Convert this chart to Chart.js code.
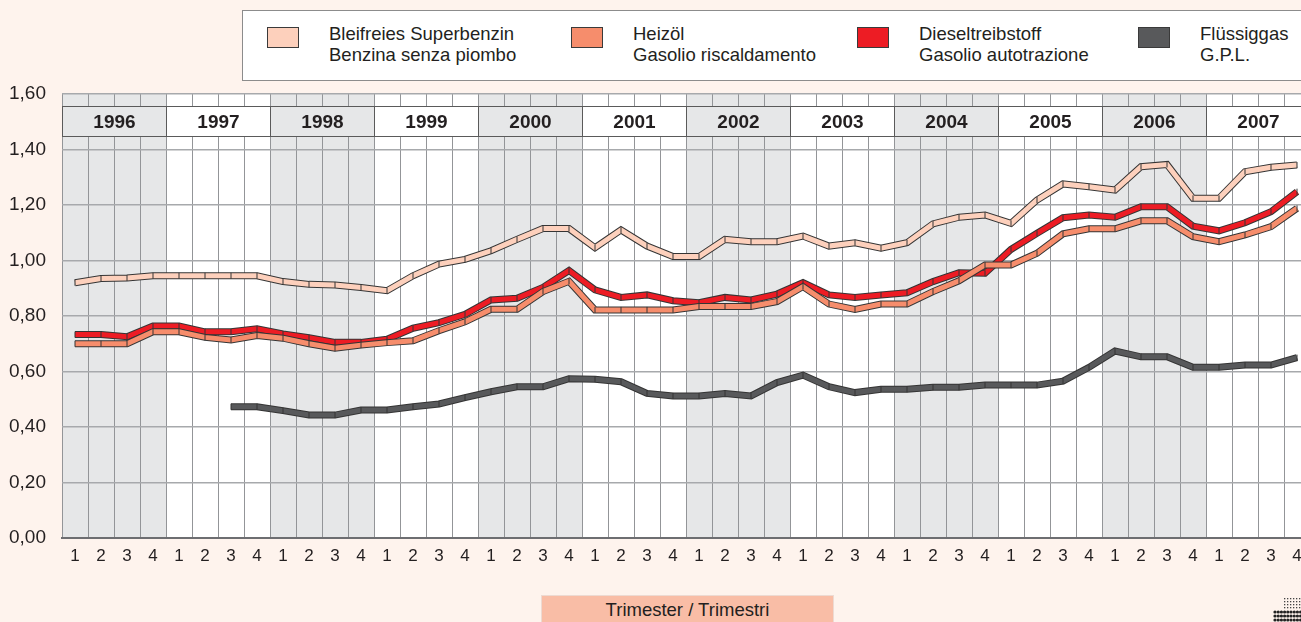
<!DOCTYPE html>
<html>
<head>
<meta charset="utf-8">
<script src="https://cdn.jsdelivr.net/npm/chart.js@4.4.1/dist/chart.umd.min.js"></script>
<style>
html, body { margin: 0; padding: 0; width: 1301px; height: 622px; overflow: hidden; background: #fef3ed; }
body { position: relative; font-family: "Liberation Sans", Arial, sans-serif; color: #231f20; }
#myChart { position: absolute; left: 0; top: 0; }
#legend { position: absolute; left: 242px; top: 10px; width: 1100px; height: 69px; background: #fff; border: 1px solid #8c8c8c; }
.swatch { position: absolute; top: 16px; width: 30px; height: 19px; border: 1px solid #3a3a3a; }
.label { position: absolute; top: 12px; font-size: 18.5px; line-height: 21px; white-space: nowrap; }
#xtitle { position: absolute; left: 541px; top: 595px; width: 291px; height: 40px; background: #f9bda6; border: 1px solid #eddad2; font-size: 18.5px; text-align: center; line-height: 28px; }
</style>
</head>
<body>
<canvas id="myChart" width="1320" height="622"></canvas>
<div id="legend"></div>
<div id="xtitle">Trimester / Trimestri</div>
<script>
const years = ['1996', '1997', '1998', '1999', '2000', '2001', '2002', '2003', '2004', '2005', '2006', '2007'];
const quarters = ['1', '2', '3', '4'];

const seriesNames = [
    ['Bleifreies Superbenzin', 'Benzina senza piombo'],
    ['Heizöl', 'Gasolio riscaldamento'],
    ['Dieseltreibstoff', 'Gasolio autotrazione'],
    ['Flüssiggas', 'G.P.L.']
];

const superbenzin = [
    0.92, 0.935, 0.937, 0.945,
    0.945, 0.945, 0.945, 0.945,
    0.924, 0.914, 0.912, 0.903,
    0.891, 0.945, 0.987, 1.004,
    1.035, 1.076, 1.115, 1.115,
    1.046, 1.11, 1.052, 1.014,
    1.014, 1.076, 1.068, 1.068,
    1.088, 1.052, 1.064, 1.044,
    1.064, 1.132, 1.156, 1.164,
    1.134, 1.218, 1.276, 1.266,
    1.254, 1.338, 1.346, 1.224,
    1.224, 1.32, 1.336, 1.344
];
const heizoel = [
    0.70, 0.70, 0.70, 0.743,
    0.743, 0.723, 0.714, 0.73,
    0.72, 0.70, 0.684, 0.695,
    0.704, 0.711, 0.747, 0.779,
    0.824, 0.824, 0.888, 0.925,
    0.822, 0.822, 0.822, 0.822,
    0.834, 0.834, 0.834, 0.852,
    0.906, 0.843, 0.824, 0.843,
    0.843, 0.888, 0.927, 0.984,
    0.984, 1.026, 1.096, 1.114,
    1.114, 1.143, 1.143, 1.086,
    1.068, 1.092, 1.122, 1.188
];
const diesel = [
    0.733, 0.733, 0.725, 0.764,
    0.764, 0.743, 0.743, 0.754,
    0.735, 0.722, 0.705, 0.705,
    0.716, 0.756, 0.776, 0.806,
    0.858, 0.864, 0.903, 0.964,
    0.894, 0.867, 0.876, 0.855,
    0.848, 0.867, 0.858, 0.879,
    0.92, 0.876, 0.867, 0.876,
    0.884, 0.924, 0.956, 0.954,
    1.04, 1.098, 1.154, 1.164,
    1.156, 1.194, 1.194, 1.124,
    1.107, 1.136, 1.176, 1.248
];
const gpl = [
    null, null, null, null,
    null, null, 0.473, 0.473,
    0.459, 0.443, 0.443, 0.461,
    0.461, 0.473, 0.483, 0.506,
    0.527, 0.545, 0.545, 0.574,
    0.572, 0.563, 0.521, 0.512,
    0.512, 0.521, 0.512, 0.56,
    0.587, 0.545, 0.524, 0.536,
    0.536, 0.543, 0.543, 0.551,
    0.551, 0.551, 0.565, 0.615,
    0.674, 0.653, 0.653, 0.615,
    0.615, 0.623, 0.623, 0.65
];

const colors = ['#fdd0bc', '#f68d6c', '#ed1c24', '#58595b'];
const outline = '#353535';
const labels = years.flatMap(y => quarters.map(q => y + '/' + q));

// legend (html)
const legendLeft = [24, 328, 614, 895];
const legend = document.getElementById('legend');
seriesNames.forEach((names, i) => {
    const sw = document.createElement('div');
    sw.className = 'swatch';
    sw.style.left = legendLeft[i] + 'px';
    sw.style.background = colors[i];
    legend.appendChild(sw);
    const lb = document.createElement('div');
    lb.className = 'label';
    lb.style.left = (legendLeft[i] + 62) + 'px';
    lb.innerHTML = names[0] + '<br>' + names[1];
    legend.appendChild(lb);
});

function band(label, data, color, order) {
    return [{
        label: label,
        data: data,
        borderColor: color,
        borderWidth: 5,
        borderJoinStyle: 'miter',
        borderCapStyle: 'butt',
        pointStyle: 'line',
        rotation: 90,
        pointRadius: 3,
        pointBorderColor: outline,
        pointBorderWidth: 1,
        pointHoverRadius: 3,
        tension: 0,
        order: order
    }, {
        label: label + ' outline',
        data: data,
        borderColor: outline,
        borderWidth: 7,
        borderJoinStyle: 'miter',
        borderCapStyle: 'butt',
        pointRadius: 0,
        tension: 0,
        order: order + 0.5
    }];
}

// year shading + header band
const yearPlugin = {
    id: 'years',
    beforeDraw(chart) {
        const { ctx, chartArea: a, scales: { x } } = chart;
        const step = x.getPixelForValue(1) - x.getPixelForValue(0);
        ctx.save();
        ctx.fillStyle = '#ffffff';
        ctx.fillRect(a.left, a.top, a.right - a.left, a.bottom - a.top);
        ctx.fillStyle = '#e6e7e8';
        years.forEach((yr, k) => {
            if (k % 2 === 0) {
                const l = x.getPixelForValue(k * 4) - step / 2;
                ctx.fillRect(l, a.top, step * 4, a.bottom - a.top);
            }
        });
        ctx.restore();
    },
    beforeDatasetsDraw(chart) {
        const { ctx, chartArea: a, scales: { x } } = chart;
        const step = x.getPixelForValue(1) - x.getPixelForValue(0);
        const top = a.top + 12.5, h = 30;
        ctx.save();
        ctx.font = 'bold 19px "Liberation Sans", Arial, sans-serif';
        ctx.textAlign = 'center';
        ctx.textBaseline = 'middle';
        ctx.lineWidth = 1;
        years.forEach((yr, k) => {
            const l = Math.round(x.getPixelForValue(k * 4) - step / 2) + 0.5;
            const w = Math.round(step * 4);
            ctx.fillStyle = k % 2 === 0 ? '#e6e7e8' : '#ffffff';
            ctx.fillRect(l, top, w, h);
            ctx.strokeStyle = '#5a5a5a';
            ctx.strokeRect(l, top, w, h);
            ctx.fillStyle = '#231f20';
            ctx.fillText(yr, l + w / 2, top + h / 2 + 1);
        });
        ctx.restore();
    },
    afterDraw(chart) {
        // small dotted logo, bottom right
        const ctx = chart.ctx;
        ctx.save();
        ctx.fillStyle = '#444';
        for (let r = 0; r < 4; r++) {
            for (let c = 0; c < 6; c++) {
                ctx.fillRect(1284 + c * 3, 598 + r * 3, 1.3, 1.3);
            }
        }
        ctx.fillStyle = '#222';
        for (let r = 0; r < 3; r++) {
            for (let c = 0; c < 9; c++) {
                ctx.beginPath();
                ctx.arc(1275 + c * 3.2, 612 + r * 4, 1.6, 0, Math.PI * 2);
                ctx.fill();
            }
        }
        ctx.restore();
    }
};

const ctx = document.getElementById('myChart').getContext('2d');
const myChart = new Chart(ctx, {
    type: 'line',
    data: {
        labels: labels,
        datasets: [
            ...band(seriesNames[0][0], superbenzin, colors[0], 0),
            ...band(seriesNames[1][0], heizoel, colors[1], 1),
            ...band(seriesNames[2][0], diesel, colors[2], 2),
            ...band(seriesNames[3][0], gpl, colors[3], 3)
        ]
    },
    options: {
        responsive: false,
        animation: false,
        devicePixelRatio: 1,
        layout: { padding: { top: 94, right: 10, left: 0, bottom: 0 } },
        plugins: {
            legend: { display: false },
            tooltip: { enabled: false }
        },
        scales: {
            x: {
                type: 'category',
                offset: true,
                grid: { offset: true, color: '#939598', lineWidth: 1, drawTicks: false },
                border: { color: '#6d6e71', width: 2 },
                ticks: {
                    autoSkip: false,
                    maxRotation: 0,
                    padding: 8,
                    color: '#231f20',
                    font: { family: '"Liberation Sans", Arial, sans-serif', size: 17 },
                    callback: (v, i) => quarters[i % 4]
                },
                afterFit: s => { s.height = 84; }
            },
            y: {
                min: 0,
                max: 1.6,
                grid: { color: '#a7a9ac', lineWidth: 1.5, drawTicks: false },
                border: { display: false },
                ticks: {
                    stepSize: 0.2,
                    padding: 16,
                    color: '#231f20',
                    font: { family: '"Liberation Sans", Arial, sans-serif', size: 19 },
                    callback: v => v.toFixed(2).replace('.', ',')
                },
                afterFit: s => { s.width = 62; }
            }
        }
    },
    plugins: [yearPlugin]
});
</script>
</body>
</html>
